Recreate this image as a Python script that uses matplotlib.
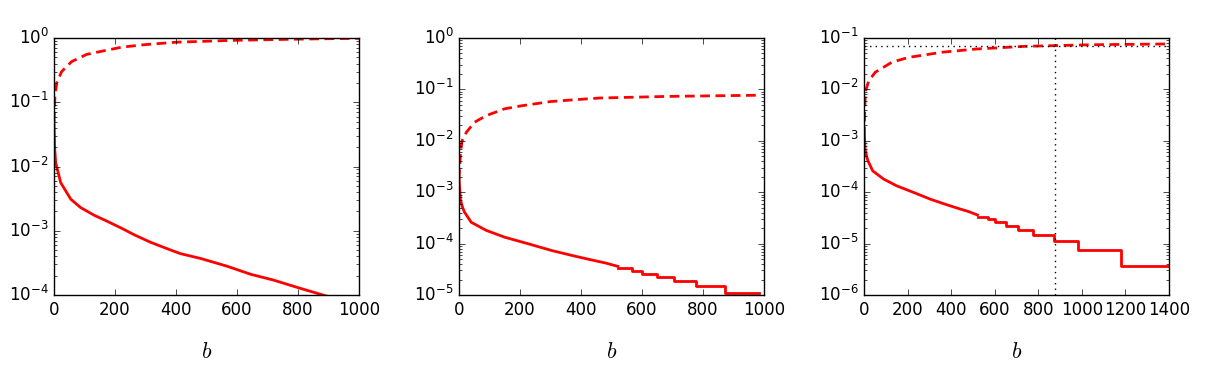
import numpy as np
import matplotlib
matplotlib.use('Agg')
import matplotlib.pyplot as plt

# old-school look: ticks inside, boxed axes
plt.style.use('classic')
plt.rcParams['figure.facecolor'] = 'white'
plt.rcParams['savefig.facecolor'] = 'white'
plt.rcParams['font.family'] = ['DejaVu Sans']
plt.rcParams['mathtext.fontset'] = 'cm'
plt.rcParams['mathtext.default'] = 'regular'
plt.rcParams['axes.unicode_minus'] = False
plt.rcParams['lines.scale_dashes'] = False

# ---- panel 1: sorted values (solid) and their running sum (dashed)
p1_rank = [0, 2, 5.5, 22, 55, 87, 131, 175, 224, 262, 317, 383, 415, 481, 568,
           645, 721, 798, 852, 891, 1000]
p1_val = [5e-2, 2e-2, 1.15e-2, 5.6e-3, 3.1e-3, 2.3e-3, 1.75e-3, 1.4e-3, 1.08e-3,
          8.7e-4, 6.6e-4, 5.0e-4, 4.4e-4, 3.7e-4, 2.8e-4, 2.1e-4, 1.7e-4,
          1.31e-4, 1.1e-4, 9.7e-5, 7.3e-5]
p1_cum_rank = [0, 3, 9, 25, 58, 107, 162, 222, 300, 400, 590, 800, 1000]
p1_cum = [0.05, 0.12, 0.2, 0.3, 0.43, 0.555, 0.63, 0.72, 0.79, 0.86, 0.92, 0.96, 0.99]

# ---- panels 2 and 3 share the same sorted values
head_rank = [0, 5, 12, 18, 40, 90, 150, 225, 305, 380, 435, 480, 521]
head_val = [1.8e-3, 7e-4, 5e-4, 4.1e-4, 2.6e-4, 1.8e-4, 1.33e-4, 1.0e-4,
            7.3e-5, 5.7e-5, 4.8e-5, 4.2e-5, 3.6e-5]
# step tail (start of each flat run)
tail_rank = [521, 567, 600, 650, 705, 776, 873, 982, 1179, 1400]
tail_val = [3.33e-5, 2.96e-5, 2.59e-5, 2.22e-5, 1.85e-5, 1.48e-5, 1.11e-5,
            7.4e-6, 3.7e-6, 3.7e-6]
p2_end = 982   # panel 2 stops here

p2_cum_rank = [0, 5, 10, 24, 51, 90, 150, 205, 300, 380, 462, 681, 981]
p2_cum = [0.0018, 0.006, 0.01, 0.0146, 0.023, 0.031, 0.042, 0.048, 0.058,
          0.063, 0.068, 0.073, 0.077]

p3_cum_rank = [0, 6, 22, 52, 129, 206, 360, 514, 744, 1051, 1400]
p3_cum = [0.0012, 0.0089, 0.0148, 0.0216, 0.034, 0.042, 0.053, 0.061, 0.069,
          0.074, 0.0766]
p3_hline = 0.071
p3_vline = 878

fig = plt.figure(figsize=(12.12, 3.87), dpi=100)
W, H = 1212., 387.
rects = [(54, 38, 305, 257), (459, 38, 305, 257), (864, 38, 305, 257)]
axes = [fig.add_axes([l / W, 1 - (t + h) / H, w / W, h / H]) for l, t, w, h in rects]

dash = dict(color='r', lw=2, ls='--', dashes=(7, 4))
solid = dict(color='r', lw=2)

ax = axes[0]
ax.semilogy(p1_rank, p1_val, **solid)
ax.semilogy(p1_cum_rank, p1_cum, **dash)
ax.set_xlim(0, 1000)
ax.set_ylim(1e-4, 1)

ax = axes[1]
n2 = sum(1 for r in tail_rank if r < p2_end)
ax.semilogy(head_rank, head_val, **solid)
ax.semilogy(tail_rank[:n2] + [p2_end], tail_val[:n2] + [tail_val[n2 - 1]],
            drawstyle='steps-post', **solid)
ax.semilogy(p2_cum_rank, p2_cum, **dash)
ax.set_xlim(0, 1000)
ax.set_ylim(1e-5, 1)

ax = axes[2]
ax.semilogy(head_rank, head_val, **solid)
ax.semilogy(tail_rank, tail_val, drawstyle='steps-post', **solid)
ax.semilogy(p3_cum_rank, p3_cum, **dash)
ax.axhline(p3_hline, color='k', ls=':', lw=1)
ax.axvline(p3_vline, color='k', ls=':', lw=1)
ax.set_xlim(0, 1400)
ax.set_ylim(1e-6, 1e-1)

for ax in axes:
    ax.set_xlabel(r'$\mathit{b}$', fontsize=16, labelpad=17)
    ax.tick_params(labelsize=12)

fig.savefig('out.png', dpi=100)
